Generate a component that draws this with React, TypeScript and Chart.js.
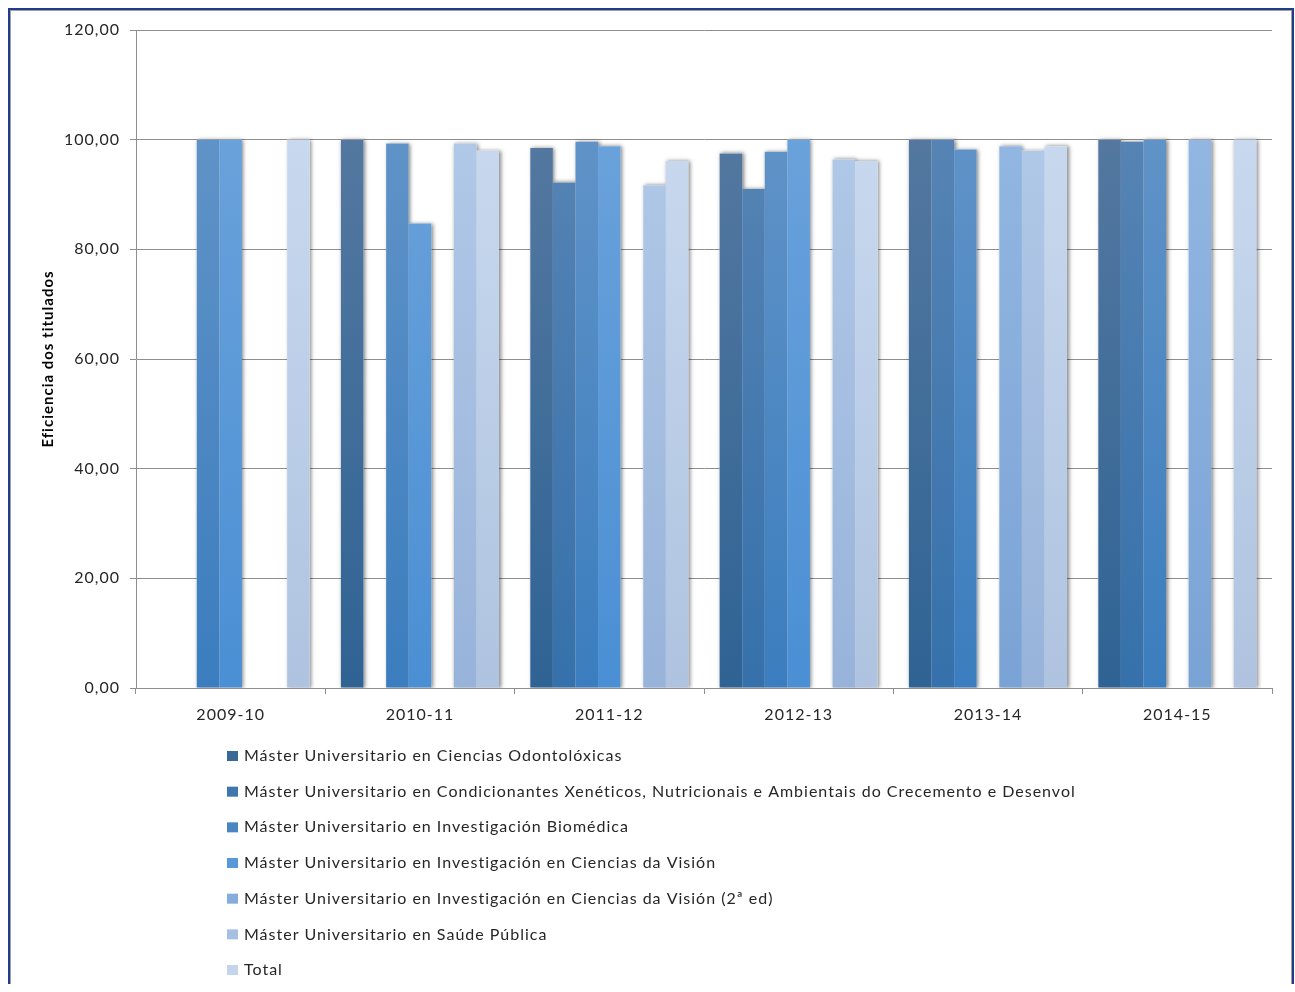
import React, { useEffect, useRef } from "react";
import { Chart, registerables } from "chart.js";

Chart.register(...registerables);

const categories = ["2009-10", "2010-11", "2011-12", "2012-13", "2013-14", "2014-15"];

const seriesNames = [
  "Máster Universitario en Ciencias Odontolóxicas",
  "Máster Universitario en Condicionantes Xenéticos, Nutricionais e Ambientais do Crecemento e Desenvol",
  "Máster Universitario en Investigación Biomédica",
  "Máster Universitario en Investigación en Ciencias da Visión",
  "Máster Universitario en Investigación en Ciencias da Visión (2ª ed)",
  "Máster Universitario en Saúde Pública",
  "Total",
];

const odontoloxicas = [null, 100, 98.5, 97.5, 100, 100];
const condicionantes = [null, null, 92.2, 91.0, 100, 99.6];
const biomedica = [100, 99.3, 99.6, 97.8, 98.2, 100];
const vision = [100, 84.7, 98.8, 100, null, null];
const vision2 = [null, null, null, null, 98.8, 100];
const saudePublica = [null, 99.3, 91.7, 96.4, 98.0, null];
const total = [100, 98.0, 96.1, 96.1, 98.8, 100];

const seriesValues = [odontoloxicas, condicionantes, biomedica, vision, vision2, saudePublica, total];

const topColors = ["#5B7CA2", "#5C87B6", "#6797C9", "#70A5DC", "#97BAE4", "#B6CDEA", "#CDDDF1"];
const bottomColors = ["#2F6394", "#3671AB", "#3B7DBE", "#4A8FD4", "#7AA3D5", "#98B3DA", "#AFC3E0"];
const legendColors = ["#3A6897", "#3F76AE", "#4A86C4", "#5798D8", "#85ACDC", "#A6C0E2", "#C3D4EC"];

const yTitle = "Eficiencia dos titulados";
const FONT = 'Lato, "Open Sans", sans-serif';

const spacingPlugin = {
  id: "letterSpacing",
  beforeUpdate(chart: any) {
    chart.ctx.letterSpacing = "1px";
  },
  beforeLayout(chart: any) {
    chart.ctx.letterSpacing = "1px";
  },
  beforeDraw(chart: any) {
    chart.ctx.letterSpacing = "1px";
  },
};

const shadowPlugin = {
  id: "barShadow",
  beforeDatasetsDraw(chart: any) {
    const ctx = chart.ctx;
    const area = chart.chartArea;
    ctx.save();
    ctx.beginPath();
    ctx.rect(area.left, area.top - 10, area.right - area.left, area.bottom - area.top + 10);
    ctx.clip();
    ctx.shadowColor = "rgba(0,0,0,0.5)";
    ctx.shadowBlur = 4;
    ctx.shadowOffsetX = 1.5;
    ctx.shadowOffsetY = 0;
    ctx.fillStyle = "#ffffff";
    chart.data.datasets.forEach((ds: any, i: number) => {
      const meta = chart.getDatasetMeta(i);
      meta.data.forEach((el: any, j: number) => {
        if (ds.data[j] == null) return;
        const p = el.getProps(["x", "y", "base", "width"], true);
        ctx.fillRect(p.x - p.width / 2, p.y, p.width, p.base - p.y);
      });
    });
    ctx.restore();
  },
};

const legendPlugin = {
  id: "verticalLegend",
  afterDraw(chart: any) {
    const ctx = chart.ctx;
    ctx.save();
    ctx.letterSpacing = "1px";
    ctx.font = `16px ${FONT}`;
    ctx.textBaseline = "middle";
    ctx.textAlign = "left";
    seriesNames.forEach((name, i) => {
      const y = 746 + i * 35.67;
      ctx.fillStyle = legendColors[i];
      ctx.fillRect(217, y - 5, 11, 10);
      ctx.fillStyle = "#262626";
      ctx.fillText(name, 234, y);
    });
    ctx.restore();
  },
};

export default function App() {
  const ref = useRef<HTMLCanvasElement | null>(null);

  useEffect(() => {
    if (!ref.current) return;
    const makeGradient = (i: number) => (c: any) => {
      const chart = c.chart;
      const area = chart.chartArea;
      if (!area) return bottomColors[i];
      const g = chart.ctx.createLinearGradient(0, area.top, 0, area.bottom);
      g.addColorStop(0, topColors[i]);
      g.addColorStop(1, bottomColors[i]);
      return g;
    };
    const chart = new Chart(ref.current, {
      type: "bar",
      data: {
        labels: categories,
        datasets: seriesNames.map((name, i) => ({
          label: name,
          data: seriesValues[i],
          backgroundColor: makeGradient(i),
          borderWidth: 0,
          categoryPercentage: 0.835,
          barPercentage: 1,
        })),
      },
      options: {
        animation: false,
        responsive: false,
        maintainAspectRatio: false,
        layout: { padding: { left: 0, right: 20, top: 20, bottom: 256 } },
        plugins: {
          legend: { display: false },
          tooltip: { enabled: false },
        },
        scales: {
          x: {
            grid: {
              display: true,
              drawOnChartArea: false,
              drawTicks: true,
              tickLength: 6,
              color: "#8E8E8E",
            },
            border: { display: true, color: "#8E8E8E", width: 1 },
            ticks: {
              font: { family: FONT, size: 16 },
              color: "#262626",
              padding: 11,
              maxRotation: 0,
            },
            afterFit: (s: any) => {
              s.height = 40;
            },
          },
          y: {
            min: 0,
            max: 120,
            grid: {
              color: "#8E8E8E",
              drawTicks: true,
              tickLength: 6,
            },
            border: { display: true, color: "#8E8E8E", width: 1 },
            ticks: {
              stepSize: 20,
              font: { family: FONT, size: 16 },
              color: "#262626",
              padding: 10,
              callback: (v: any) => Number(v).toFixed(2).replace(".", ","),
            },
            title: {
              display: true,
              text: yTitle,
              font: { family: FONT, size: 15, weight: "bold" },
              color: "#000000",
              padding: { top: 29, bottom: 0 },
            },
            afterFit: (s: any) => {
              s.width = 126;
            },
          },
        },
      },
      plugins: [spacingPlugin, shadowPlugin, legendPlugin],
    });
    return () => chart.destroy();
  }, []);

  return (
    <div
      style={{
        position: "absolute",
        left: 8,
        top: 8,
        width: 1286,
        height: 976,
        boxSizing: "border-box",
        borderTop: "2px solid #1F3C8A",
        borderLeft: "2px solid #1F3C8A",
        borderRight: "2px solid #1F3C8A",
        boxShadow: "inset 1px 1px 0 #A0A0A0, inset -1px 0 0 #A0A0A0",
        background: "#ffffff",
        overflow: "hidden",
      }}
    >
      <canvas ref={ref} width={1282} height={974} style={{ display: "block", width: 1282, height: 974 }} />
    </div>
  );
}
